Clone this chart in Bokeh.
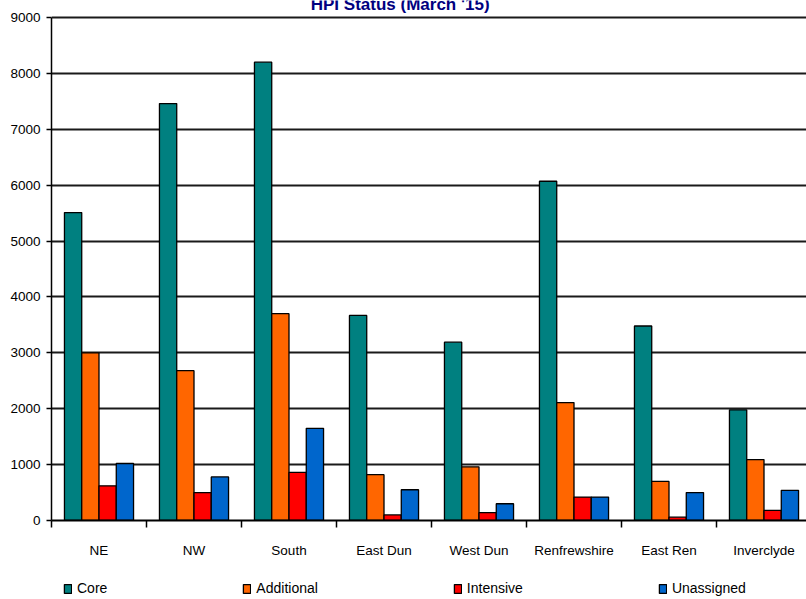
from bokeh.plotting import figure
from bokeh.models import (ColumnDataSource, Range1d, FixedTicker, Legend,
                          LegendItem, Label)
from bokeh.layouts import column
from bokeh.transform import dodge
from bokeh.embed import file_html
from bokeh.resources import INLINE

# HPI status counts by area
categories = ["NE", "NW", "South", "East Dun", "West Dun",
              "Renfrewshire", "East Ren", "Inverclyde"]
core = [5510, 7460, 8200, 3670, 3190, 6070, 3480, 1980]
additional = [3000, 2680, 3700, 820, 960, 2110, 700, 1090]
intensive = [620, 500, 860, 100, 140, 420, 60, 180]
unassigned = [1020, 780, 1650, 550, 300, 420, 500, 540]

series_names = ["Core", "Additional", "Intensive", "Unassigned"]
series_keys = ["core", "additional", "intensive", "unassigned"]
series_colors = ["#008080", "#FF6600", "#FF0000", "#0066CC"]
y_ticks = list(range(0, 9001, 1000))
y_max = 9000
title_text = "HPI Status (March '15)"

FONT = "Liberation Sans"

pos = list(range(len(categories)))
source = ColumnDataSource(dict(pos=pos, core=core, additional=additional,
                               intensive=intensive, unassigned=unassigned))

# one category slot = 95 px; plot area starts 51 px from the left edge
slot_px = 95
frame_w = 806 - 51
px_per_1000 = 55.86
p = figure(width=806, height=568, output_backend="svg", toolbar_location=None,
           x_range=Range1d(-0.5, -0.5 + frame_w / slot_px),
           y_range=Range1d(0, y_max + 17 / px_per_1000 * 1000),
           min_border_left=51, min_border_right=0,
           min_border_top=0, min_border_bottom=48)
p.outline_line_color = None
p.background_fill_color = "white"
p.border_fill_color = "white"

# four adjacent bars per category, gap between groups = 1.5 bar widths
bar_w = 1.0 / 5.5
offsets = [(-2 + k + 0.5) * bar_w for k in range(4)]
for key, color, off in zip(series_keys, series_colors, offsets):
    p.vbar(x=dodge("pos", off), top=key, width=bar_w, bottom=0,
           source=source, fill_color=color, line_color="black",
           line_width=1.3)

# grid
p.xgrid.grid_line_color = None
p.ygrid.grid_line_color = "#1a1a1a"
p.ygrid.grid_line_width = 2
p.ygrid.ticker = FixedTicker(ticks=y_ticks)

# y axis, line stops at the top gridline
ya = p.yaxis[0]
ya.ticker = FixedTicker(ticks=y_ticks)
ya.bounds = (0, y_max)
ya.axis_line_color = "black"
ya.axis_line_width = 1.5
ya.major_tick_out = 5
ya.major_tick_in = 0
ya.major_tick_line_width = 1.5
ya.minor_tick_line_color = None
ya.major_label_standoff = 6
ya.major_label_text_font = FONT
ya.major_label_text_font_size = "13.5px"
ya.major_label_text_color = "black"

# x axis: labels at slot centres, tick marks at slot boundaries
xa = p.xaxis[0]
xa.ticker = FixedTicker(ticks=pos, minor_ticks=[i - 0.5 for i in range(len(categories) + 1)])
xa.major_label_overrides = {i: c for i, c in enumerate(categories)}
xa.axis_line_color = "black"
xa.axis_line_width = 2
xa.major_tick_line_color = None
xa.major_tick_out = 0
xa.major_tick_in = 0
xa.minor_tick_line_color = "black"
xa.minor_tick_line_width = 1.5
xa.minor_tick_out = 7
xa.minor_tick_in = 0
xa.major_label_standoff = 15
xa.major_label_text_font = FONT
xa.major_label_text_font_size = "13.5px"
xa.major_label_text_color = "black"

# title, partly above the top edge of the page
p.add_layout(Label(x=3.17, y=y_max + 13 / px_per_1000 * 1000, text=title_text,
                   text_align="center", text_baseline="alphabetic",
                   text_font=FONT, text_font_size="17px",
                   text_font_style="bold", text_color="#000080"))

# legend strip under the chart; its bars are hidden, only the key shows
lg = figure(width=806, height=31, output_backend="svg", toolbar_location=None,
            x_range=Range1d(100, 101), y_range=Range1d(-2, -1),
            x_axis_location=None, y_axis_location=None,
            min_border_left=51, min_border_right=0,
            min_border_top=0, min_border_bottom=0)
lg.outline_line_color = None
lg.xgrid.grid_line_color = None
lg.ygrid.grid_line_color = None
key_renderers = [lg.vbar(x="pos", top=key, width=0.1, bottom=0, source=source,
                         fill_color=color, line_color="black", line_width=1.3,
                         visible=False)
                 for key, color in zip(series_keys, series_colors)]

legend = Legend(items=[LegendItem(label=n, renderers=[r])
                       for n, r in zip(series_names, key_renderers)],
                orientation="horizontal", location=(12, 3),
                glyph_width=9, glyph_height=11, label_standoff=5,
                spacing=135, margin=0, padding=0,
                border_line_color=None, background_fill_alpha=0,
                inactive_fill_alpha=0,
                label_text_font=FONT, label_text_font_size="14px",
                label_text_color="black")
lg.add_layout(legend, "center")

layout = column(p, lg, spacing=0)
open("out.html", "w").write(file_html(layout, INLINE))
